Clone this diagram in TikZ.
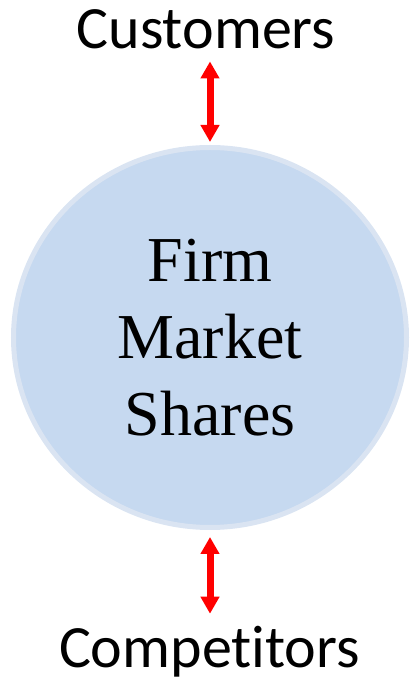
\documentclass[tikz,border=0pt]{standalone}
\usepackage{fontspec}
\setmainfont{Liberation Serif}
\newfontfamily\labelfont[Ligatures=NoCommon]{Carlito}
\usetikzlibrary{positioning,shapes.geometric,arrows.meta}
\definecolor{shareblue}{HTML}{C6D9F0}
\definecolor{sharering}{HTML}{DAE4F2}
\begin{document}
\begin{tikzpicture}[x=1pt,y=1pt,
    party/.style={inner sep=0pt,outer sep=0pt,font=\labelfont\fontsize{60}{72}\selectfont},
    twoway/.style={draw=red,line width=7pt,{Triangle[width=18pt,length=17pt]}-{Triangle[width=18pt,length=17pt]}}]
  \useasboundingbox (0,0) rectangle (410,683);
  \node[ellipse,fill=shareblue,draw=sharering,line width=5pt,inner sep=0pt,outer sep=0pt,
        minimum width=393pt,minimum height=380pt,align=center,
        font=\fontsize{64}{77}\selectfont](shares) at (210,345.5){Firm\\Market\\Shares};
  \node[party,anchor=base](customers) at (206,634){Customers};
  \node[party,anchor=base](competitors) at (209.5,15){Competitors};
  \draw[twoway,shorten <=12pt,shorten >=5.5pt] (customers.south -| shares.north) -- (shares.north);
  \draw[twoway,shorten <=9.5pt,shorten >=13pt] (shares.south) -- (competitors.north -| shares.south);
\end{tikzpicture}
\end{document}
